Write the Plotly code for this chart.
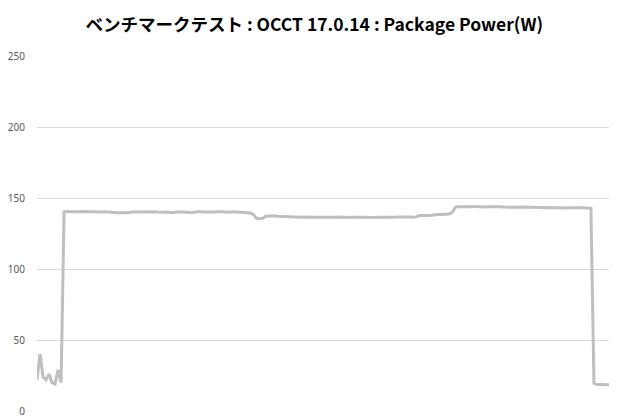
import plotly.graph_objects as go

# Package Power (W) samples, one every few seconds
warmup = [22, 40, 24, 22, 26, 20, 19, 29, 20]
stage1 = [
    140.3, 140.5, 140.4, 140.2, 140.4, 140.3, 140.5, 140.4, 140.2, 140.3,
    140.4, 140.2, 140.3, 140.1, 140.3, 140.0, 139.8, 139.6, 139.7, 139.6,
    139.8, 139.7, 139.9, 140.2, 140.3, 140.1, 140.2, 140.0, 139.9, 140.2,
    140.3, 140.1, 139.9, 140.0, 140.2, 139.8, 139.6, 140.1, 140.3, 140.2,
    140.0, 140.2, 139.7, 140.1, 140.3, 140.4, 140.2, 140.1, 140.3, 140.4,
    140.2, 140.5, 140.3, 140.1, 140.2, 140.0, 140.3, 140.1, 139.9, 139.8,
    140.0, 139.8, 139.4,
]
stage2 = [
    138.0, 135.6, 135.4, 135.8, 137.2, 137.4, 137.3, 137.5, 137.2, 137.1,
    137.0, 136.8, 136.6, 136.4, 136.5, 136.3, 136.4, 136.6, 136.4, 136.3,
    136.5, 136.4, 136.2, 136.5, 136.4, 136.3, 136.5, 136.4, 136.6, 136.4,
    136.5, 136.3, 136.4, 136.5, 136.4, 136.6, 136.5, 136.4, 136.3, 136.5,
    136.2, 136.4, 136.5, 136.3, 136.1, 136.4, 136.5, 136.3, 136.6, 136.7,
    136.5, 136.4, 136.6, 136.5, 136.7, 137.6, 137.5, 137.7, 137.6, 137.8,
    138.2, 138.4, 138.3, 138.5, 138.4, 138.7,
]
stage3 = [
    140.2, 143.6, 143.8, 143.7, 143.9, 144.0, 143.8, 144.1, 143.9, 143.8,
    143.9, 143.7, 143.8, 143.9, 143.6, 143.7, 143.8, 143.6, 143.5, 143.7,
    143.6, 143.4, 143.5, 143.6, 143.4, 143.3, 143.5, 143.4, 143.2, 143.4,
    143.3, 143.2, 143.4, 143.3, 143.1, 143.3, 143.2, 143.0, 143.3, 143.1,
    143.2, 143.0, 143.1, 143.2, 142.9, 143.0, 142.8,
]
cooldown = [19.5, 18.6, 18.7, 18.5, 18.6, 18.4]

power = warmup + stage1 + stage2 + stage3 + cooldown
samples = list(range(len(power)))

y_ticks = [0, 50, 100, 150, 200, 250]

fig = go.Figure()
fig.add_trace(go.Scatter(
    x=samples, y=power, mode="lines",
    line=dict(color="#bfbfbf", width=3),
    hoverinfo="skip",
))

# the page body adds an 8px offset, so margins are shifted to compensate
fig.update_layout(
    width=620, height=420,
    margin=dict(l=29, r=19, t=48, b=17),
    paper_bgcolor="white", plot_bgcolor="white",
    showlegend=False,
    title=dict(
        text="ベンチマークテスト : OCCT 17.0.14 : Package Power(W)",
        x=0.494, xanchor="center", y=0.959, yanchor="middle",
        font=dict(family="Noto Sans CJK JP", size=17.5, color="#000000", weight="bold"),
    ),
    font=dict(family="Noto Sans, Noto Sans CJK JP", size=10, color="#595959"),
)
fig.update_xaxes(
    range=[0, len(power) - 1], showticklabels=False, showgrid=False,
    zeroline=False, showline=False, ticks="", automargin=False,
)
fig.update_yaxes(
    range=[0, 250], tickvals=y_ticks, showgrid=True, gridcolor="#d9d9d9",
    gridwidth=1, zeroline=False, showline=False, ticks="", ticklabelstandoff=11,
    automargin=False,
)

fig.write_html("out.html")
